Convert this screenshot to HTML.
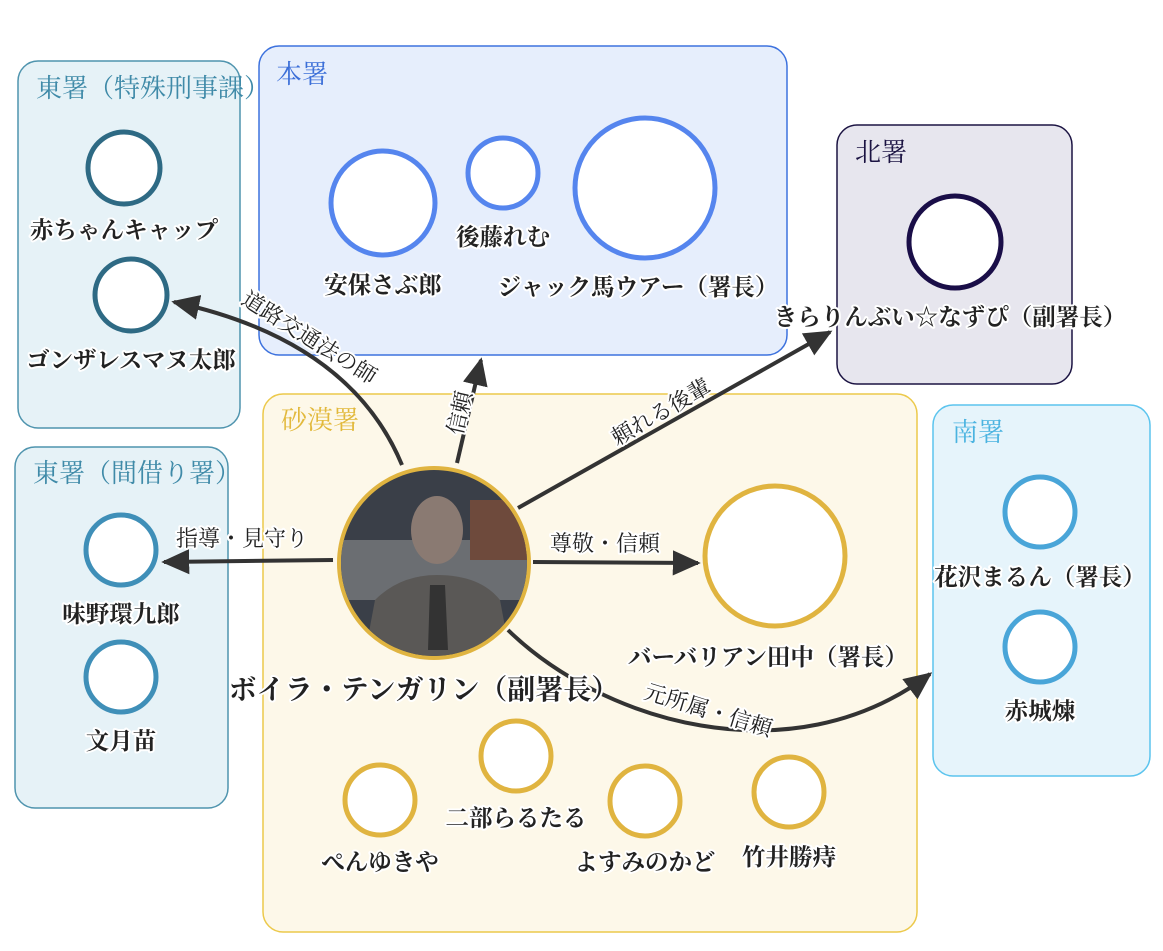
<!DOCTYPE html>
<html><head><meta charset="utf-8"><style>
html,body{margin:0;padding:0;background:#fff;}
svg{display:block;}
text{font-family:"Liberation Serif","Noto Serif CJK SC","Noto Serif CJK JP",serif;}
.lb{font-size:23.5px;font-weight:bold;fill:#222;text-anchor:middle;paint-order:stroke;stroke:#fff;stroke-width:4px;stroke-linejoin:round;}
.el{font-size:22px;fill:#222;paint-order:stroke;stroke:#fff;stroke-width:4px;stroke-linejoin:round;}
.t{font-size:26px;}
</style></head><body>
<svg width="1163" height="951" viewBox="0 0 1163 951" xmlns="http://www.w3.org/2000/svg">
<defs>
<marker id="a" viewBox="0 0 10 10" refX="9" refY="5" markerWidth="28" markerHeight="28" markerUnits="userSpaceOnUse" orient="auto"><path d="M0,0.5 L10,5 L0,9.5 z" fill="#333"/></marker>
<clipPath id="pc"><circle cx="434" cy="563" r="93"/></clipPath>
</defs>
<rect x="18" y="61" width="222" height="367" rx="20" fill="#e6f2f7" stroke="#4f94ae" stroke-width="1.5"/>
<text x="36" y="97" class="t" fill="#3f8aa8">東署（特殊刑事課）</text>
<rect x="259" y="46" width="528" height="309" rx="20" fill="#e6eefc" stroke="#3d72de" stroke-width="1.5"/>
<text x="276" y="83" class="t" fill="#3c6fd8">本署</text>
<rect x="837" y="125" width="235" height="259" rx="20" fill="#e7e6ee" stroke="#1b1342" stroke-width="1.5"/>
<text x="855" y="161" class="t" fill="#1b1342">北署</text>
<rect x="15" y="447" width="213" height="361" rx="20" fill="#e6f2f7" stroke="#4f94ae" stroke-width="1.5"/>
<text x="33" y="482" class="t" fill="#3f8aa8">東署（間借り署）</text>
<rect x="263" y="394" width="654" height="538" rx="20" fill="#fdf8e9" stroke="#ecc94b" stroke-width="1.5"/>
<text x="281" y="429" class="t" fill="#e2b93c">砂漠署</text>
<rect x="933" y="405" width="217" height="371" rx="20" fill="#e6f4fb" stroke="#5bc4ee" stroke-width="1.5"/>
<text x="952" y="441" class="t" fill="#4ab3e0">南署</text>
<g fill="#fff" stroke-width="5">
<circle cx="124" cy="168" r="36" stroke="#2e6a84"/>
<circle cx="131" cy="295" r="36" stroke="#2e6a84"/>
<circle cx="383" cy="203" r="52" stroke="#5585ee"/>
<circle cx="503" cy="173" r="35" stroke="#5585ee"/>
<circle cx="645" cy="188" r="70" stroke="#5585ee"/>
<circle cx="955" cy="242" r="46" stroke="#1a0e48"/>
<circle cx="121" cy="550" r="35" stroke="#3f8fb8"/>
<circle cx="121" cy="677" r="35" stroke="#3f8fb8"/>
<circle cx="775" cy="556" r="70" stroke="#e0b440"/>
<circle cx="516" cy="756" r="35" stroke="#e0b440"/>
<circle cx="380" cy="800" r="35" stroke="#e0b440"/>
<circle cx="645" cy="801" r="35" stroke="#e0b440"/>
<circle cx="789" cy="792" r="35" stroke="#e0b440"/>
<circle cx="1040" cy="512" r="35" stroke="#49a5d8"/>
<circle cx="1040" cy="647" r="35" stroke="#49a5d8"/>
</g>
<g fill="none" stroke="#333" stroke-width="4">
<path d="M402,465 Q350,340 174,302" marker-end="url(#a)"/>
<path d="M457,463 L481,360" marker-end="url(#a)"/>
<path d="M518,508 L830,332" marker-end="url(#a)"/>
<path d="M533,562 L698,563" marker-end="url(#a)"/>
<path d="M333,560 L164,562" marker-end="url(#a)"/>
<path d="M508,630 C600,720 790,780 930,674" marker-end="url(#a)"/>
</g>
<circle cx="434" cy="563" r="97" fill="#e0b440"/>
<g clip-path="url(#pc)">
<rect x="330" y="460" width="210" height="210" fill="#3a3f48"/>
<rect x="330" y="540" width="210" height="60" fill="#6b6e72"/>
<rect x="470" y="500" width="60" height="60" fill="#6e4a3c"/>
<ellipse cx="437" cy="530" rx="26" ry="34" fill="#8a7a72"/>
<path d="M360,680 L375,600 Q400,575 437,575 Q480,575 500,600 L515,680 z" fill="#5a5856"/>
<path d="M430,585 L445,585 L448,650 L428,650 z" fill="#333"/>
</g>
<g class="lb">
<text x="124" y="238">赤ちゃんキャップ</text>
<text x="131" y="368">ゴンザレスマヌ太郎</text>
<text x="383" y="293">安保さぶ郎</text>
<text x="503" y="245">後藤れむ</text>
<text x="638" y="295">ジャック馬ウアー（署長）</text>
<text x="950" y="325">きらりんぶい☆なずぴ（副署長）</text>
<text x="121" y="622">味野環九郎</text>
<text x="121" y="749">文月苗</text>
<text x="1040" y="585">花沢まるん（署長）</text>
<text x="1040" y="719">赤城煉</text>
<text x="768" y="665">バーバリアン田中（署長）</text>
<text x="516" y="826">二部らるたる</text>
<text x="380" y="870">ぺんゆきや</text>
<text x="645" y="870">よすみのかど</text>
<text x="789" y="865">竹井勝痔</text>
<text x="424" y="699" style="font-size:28px">ボイラ・テンガリン（副署長）</text>
</g>
<g class="el">
<text transform="translate(240,303) rotate(32)">道路交通法の師</text>
<text transform="translate(462,436) rotate(-77)">信頼</text>
<text transform="translate(617,446) rotate(-30)">頼れる後輩</text>
<text x="550" y="551">尊敬・信頼</text>
<text x="176" y="546">指導・見守り</text>
<text transform="translate(643,698) rotate(17)">元所属・信頼</text>
</g>
</svg>
</body></html>
